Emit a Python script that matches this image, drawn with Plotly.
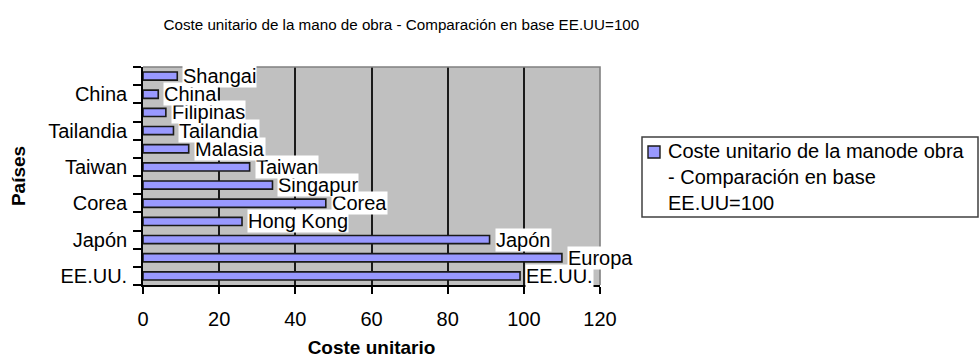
import plotly.graph_objects as go

# Unit labour cost by country (USA = 100), listed bottom to top
paises = ["EE.UU.", "Europa", "Japón", "Hong Kong", "Corea", "Singapur",
          "Taiwan", "Malasia", "Tailandia", "Filipinas", "China", "Shangai"]
coste = [99, 110, 91, 26, 48, 34, 28, 12, 8, 6, 4, 9]
# only every other category carries an axis label
etiquetas_eje = ["EE.UU.", "", "Japón", "", "Corea", "", "Taiwan", "",
                 "Tailandia", "", "China", ""]
marcas_x = [0, 20, 40, 60, 80, 100, 120]

serie = "Coste unitario de la manode obra<br>- Comparación en base<br>EE.UU=100"
titulo = "Coste unitario de la mano de obra - Comparación en base EE.UU=100"

FONT = "Liberation Sans, Arial, sans-serif"
BAR_FILL = "#9999ff"
BAR_EDGE = "#1a1a1a"

W, H = 979, 358
L, R, T, B = 143, 379, 67, 73


def px_x(px):
    """Pixel column -> paper x (fraction of the plot domain)."""
    return (px - L) / (W - L - R)


def px_y(py):
    """Pixel row -> paper y (fraction of the plot domain)."""
    return (H - B - py) / (H - T - B)


fig = go.Figure()
fig.add_trace(go.Bar(
    y=paises, x=coste, orientation="h", name=serie,
    width=0.45,
    marker=dict(color=BAR_FILL, line=dict(color=BAR_EDGE, width=1.6)),
    showlegend=False,
))

# value-point labels: drawn bottom to top so upper boxes overlap lower ones
for pais, valor in zip(paises, coste):
    fig.add_annotation(
        x=valor, y=pais, text=pais, showarrow=False,
        xanchor="left", yanchor="middle", xshift=5,
        bgcolor="white", borderpad=0,
        font=dict(family=FONT, size=20, color="black"),
    )

# grey frame on top and right edge of the plot area
fig.add_shape(type="path", xref="x domain", yref="y domain",
              path="M 0,1 L 1,1 L 1,0", line=dict(color="#808080", width=1.6),
              layer="above")

# legend box: symbol next to the first line of the series name
fig.add_shape(type="rect", xref="paper", yref="paper",
              x0=px_x(642), x1=px_x(978), y0=px_y(217), y1=px_y(137),
              line=dict(color="#404040", width=1.5), fillcolor="white",
              layer="above")
fig.add_shape(type="rect", xref="paper", yref="paper",
              x0=px_x(648), x1=px_x(660), y0=px_y(158), y1=px_y(146),
              line=dict(color=BAR_EDGE, width=1.4), fillcolor=BAR_FILL,
              layer="above")
fig.add_annotation(
    xref="paper", yref="paper", x=px_x(667), y=px_y(139),
    xanchor="left", yanchor="top", align="left", showarrow=False,
    text=serie, borderpad=0,
    font=dict(family=FONT, size=20, color="black"),
)

fig.update_layout(
    width=W, height=H,
    margin=dict(l=L, r=R, t=T, b=B, autoexpand=False),
    paper_bgcolor="white", plot_bgcolor="#c0c0c0",
    font=dict(family=FONT, size=20, color="black"),
    title=dict(text=titulo, x=0.41, xanchor="center", y=1 - 25 / H,
               yanchor="middle", font=dict(family=FONT, size=15.2, color="black")),
    showlegend=False,
)

fig.update_xaxes(
    range=[0, 120], tickvals=marcas_x, ticktext=[str(v) for v in marcas_x],
    showgrid=True, gridcolor="#1a1a1a", gridwidth=1.6,
    showline=True, linecolor="black", linewidth=1.6,
    ticks="outside", ticklen=7, tickcolor="black", tickwidth=1.6,
    ticklabelstandoff=8, zeroline=False, fixedrange=True, automargin=False,
    title=dict(text="<b>Coste unitario</b>", standoff=18,
               font=dict(family=FONT, size=19, color="black")),
)

fig.update_yaxes(
    type="category", categoryorder="array", categoryarray=paises,
    tickvals=paises, ticktext=etiquetas_eje, tickson="boundaries",
    showgrid=False, showline=True, linecolor="black", linewidth=1.6,
    ticks="outside", ticklen=8, tickcolor="black", tickwidth=1.6,
    ticklabelstandoff=10, range=[-0.5, len(paises) - 0.5], automargin=False,
    title=dict(text="<b>Países</b>", standoff=18,
               font=dict(family=FONT, size=19, color="black")),
)

fig.write_html("out.html")
